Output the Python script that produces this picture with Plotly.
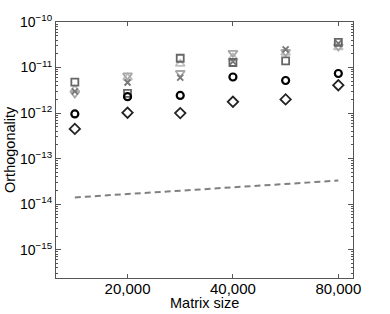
import plotly.graph_objects as go

sizes = [14142, 20000, 28284, 40000, 56569, 80000]

tri_down = [2.7e-12, 6.7e-12, 7.6e-12, 2.1e-11, 2.2e-11, 2.9e-11]
tri_up = [3.3e-12, 6.0e-12, 1.2e-11, 1.66e-11, 2.1e-11, 2.76e-11]
crosses = [3.0e-12, 4.7e-12, 6.0e-12, 1.35e-11, 2.5e-11, 3.4e-11]
squares = [4.8e-12, 2.7e-12, 1.6e-11, 1.29e-11, 1.4e-11, 3.56e-11]
circles = [9.6e-13, 2.3e-12, 2.45e-12, 6.2e-12, 5.2e-12, 7.4e-12]
diamonds = [4.5e-13, 1.02e-12, 1.0e-12, 1.77e-12, 2.0e-12, 4.1e-12]
bound = [1.41e-14, 1.68e-14, 2.0e-14, 2.37e-14, 2.8e-14, 3.3e-14]

xtick_vals = [20000, 40000, 80000]
xtick_text = ["20,000", "40,000", "80,000"]
ytick_exp = [-10, -11, -12, -13, -14, -15]

FONT = "Liberation Sans, Arial"

fig = go.Figure()

def mk(y, symbol, color, size=7, width=1.8):
    fig.add_trace(go.Scatter(
        x=sizes, y=y, mode="markers",
        marker=dict(symbol=symbol, size=size, color=color,
                    line=dict(color=color, width=width)),
        showlegend=False))

fig.add_trace(go.Scatter(x=sizes, y=bound, mode="lines",
                         line=dict(color="#808080", width=2, dash="6px,4px"),
                         showlegend=False))
mk(tri_up, "triangle-up-open", "#c0c0c0", 8)
mk(tri_down, "triangle-down-open", "#a8a8a8", 8)
mk(crosses, "x-thin-open", "#777777", 6, 1.8)
mk(squares, "square-open", "#666666", 7)
mk(circles, "circle-open", "#000000", 7, 2.2)
mk(diamonds, "diamond-open", "#222222", 8, 1.8)

minor_vals = []
for e in range(-16, -10):
    for m in range(2, 10):
        minor_vals.append(m * 10.0 ** e)

axis_common = dict(showgrid=False, zeroline=False, showline=True,
                   linecolor="#555555", linewidth=1.2, mirror="allticks",
                   ticks="inside", tickcolor="#555555")

fig.update_xaxes(type="log", range=[4.0967, 4.945],
                 tickvals=xtick_vals, ticktext=xtick_text, ticklen=4,
                 ticklabelstandoff=-3,
                 tickfont=dict(family=FONT, size=15, color="#000"),
                 **axis_common)
fig.update_yaxes(type="log", range=[-15.62, -10],
                 tickvals=[10.0 ** e for e in ytick_exp],
                 ticktext=["10<sup>\u2212%d</sup>" % (-e) for e in ytick_exp],
                 ticklen=5,
                 tickfont=dict(family=FONT, size=14, color="#000"),
                 minor=dict(tickvals=minor_vals, ticks="inside", ticklen=2,
                            tickcolor="#555555"),
                 **axis_common)

fig.add_annotation(text="Matrix size", xref="paper", yref="paper",
                   x=0.5, y=0, yshift=-25, yanchor="middle", showarrow=False,
                   font=dict(family=FONT, size=14.5, color="#000"))
fig.add_annotation(text="Orthogonality", xref="paper", yref="paper",
                   x=0, y=0.5, xshift=-46, xanchor="center", yanchor="middle",
                   textangle=-90, showarrow=False,
                   font=dict(family=FONT, size=14.5, color="#000"))

fig.update_layout(width=390, height=314, margin=dict(l=56, r=37, t=22, b=36),
                  plot_bgcolor="white", paper_bgcolor="white")

fig.write_html("out.html", config={"displayModeBar": False},
               post_script="document.body.style.margin='0';document.body.style.overflow='hidden';")
